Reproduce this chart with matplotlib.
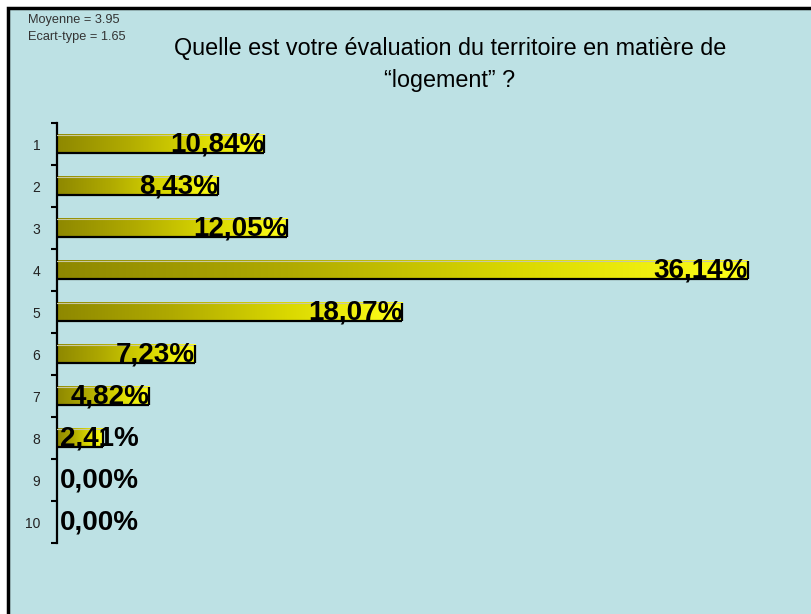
import numpy as np
import matplotlib
matplotlib.use("Agg")
import matplotlib.pyplot as plt
from matplotlib.colors import LinearSegmentedColormap
from matplotlib.patches import Rectangle

categories = ["1", "2", "3", "4", "5", "6", "7", "8", "9", "10"]
values = [10.84, 8.43, 12.05, 36.14, 18.07, 7.23, 4.82, 2.41, 0.00, 0.00]
labels = ["10,84%", "8,43%", "12,05%", "36,14%", "18,07%", "7,23%", "4,82%", "2,41%", "0,00%", "0,00%"]
title_l1 = "Quelle est votre évaluation du territoire en matière de"
title_l2 = "\u201clogement\u201d ?"
stats = ["Moyenne = 3.95", "Ecart-type = 1.65"]

NARROW = ["Liberation Sans Narrow", "Liberation Sans", "DejaVu Sans"]
BOLD = ["Liberation Sans", "DejaVu Sans"]
BG = "#BDE1E4"

W, H = 812, 614
fig = plt.figure(figsize=(W / 100, H / 100), dpi=100)
fig.patch.set_facecolor("white")

# panel background with black border (top and left visible)
fig.patches.append(Rectangle((7.5 / W, -0.05), 1.2, (H - 7.5) / H + 0.05,
                             transform=fig.transFigure, facecolor=BG,
                             edgecolor="black", linewidth=2.5, zorder=-5))

ax = fig.add_axes([57 / W, 71 / H, (790 - 57) / W, 420 / H])
ax.set_facecolor("none")
ax.set_zorder(2)
ax.set_xlim(0, 36.14 * (790 - 57) / (748 - 57))

cmap = LinearSegmentedColormap.from_list("g", ["#8E8800", "#B0AA00", "#DAD800", "#FFFF1A"])
grad = np.linspace(0, 1, 256).reshape(1, -1)
h = 0.43
ypos = np.arange(1, len(categories) + 1)
for y, v, lab in zip(ypos, values, labels):
    if v > 0:
        ax.imshow(grad, cmap=cmap, aspect="auto", extent=[0, v, y + h / 2, y - h / 2],
                  interpolation="bilinear", zorder=2)
        ax.plot([0, v], [y - h / 2, y - h / 2], color="#C8C8A0", lw=0.8, zorder=3)
        ax.plot([0, v], [y + h / 2, y + h / 2], color="black", lw=1.6, zorder=3,
                solid_capstyle="butt")
        ax.plot([v, v], [y - h / 2, y + h / 2], color="black", lw=1.6, zorder=3,
                solid_capstyle="butt")
    xr = max(v, 4.3)
    ax.text(xr, y + 0.02, lab, ha="right", va="center", fontsize=20,
            fontweight="bold", family=BOLD, color="black", zorder=4)
ax.set_ylim(10.5, 0.5)

for s in ["top", "right", "bottom"]:
    ax.spines[s].set_visible(False)
ax.spines["left"].set_linewidth(1.6)
ax.set_xticks([])
ax.set_yticks(ypos)
ax.set_yticklabels(categories, family=NARROW, fontsize=10, color="#222222")
ax.tick_params(axis="y", which="major", length=0, pad=12)
ax.set_yticks(np.arange(0.5, 11, 1), minor=True)
ax.tick_params(axis="y", which="minor", length=4.5, width=1.5, direction="out")

fig.text(450 / W, 1 - 48 / H, title_l1, ha="center", va="center", fontsize=16.8,
         family=NARROW, color="black")
fig.text(450 / W, 1 - 80 / H, title_l2, ha="center", va="center", fontsize=16.8,
         family=NARROW, color="black")
fig.text(28 / W, 1 - 20 / H, stats[0], ha="left", va="center", fontsize=9.2,
         family=NARROW, color="#333333")
fig.text(28 / W, 1 - 37 / H, stats[1], ha="left", va="center", fontsize=9.2,
         family=NARROW, color="#333333")

fig.savefig("out.png", dpi=100, facecolor=fig.get_facecolor())
